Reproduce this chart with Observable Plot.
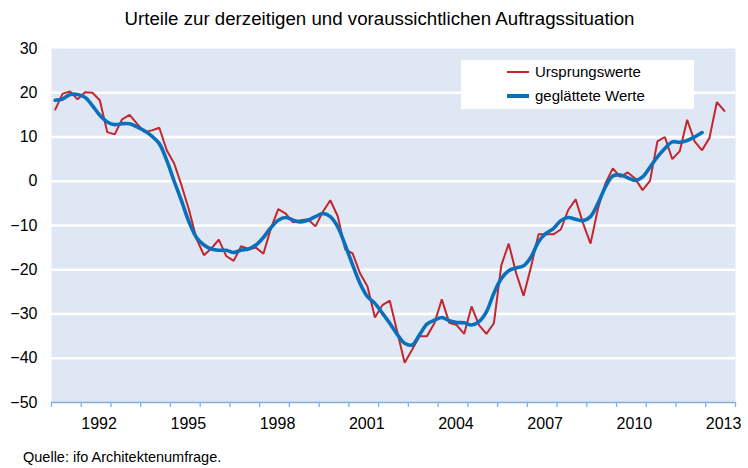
<!DOCTYPE html>
<html>
<head>
<meta charset="utf-8">
<script src="https://cdn.jsdelivr.net/npm/d3@7"></script>
<script src="https://cdn.jsdelivr.net/npm/@observablehq/plot@0.6"></script>
<style>
  body { margin: 0; background: #fff; font-family: "Liberation Sans", Arial, sans-serif; }
  #wrap { position: relative; width: 748px; height: 468px; overflow: hidden; }
  #title { position: absolute; left: 0; top: 9px; width: 759px; text-align: center; font-size: 18.7px; line-height: 19px; color: #000; }
  #caption { position: absolute; left: 23px; top: 450px; font-size: 14.5px; line-height: 15px; color: #000; }
  #legend { position: absolute; left: 461px; top: 60px; width: 233px; height: 49px; background: #fff; }
  .sw { position: absolute; left: 46px; width: 22px; }
  .lt { position: absolute; left: 74px; font-size: 15px; line-height: 15px; color: #000; white-space: nowrap; }
  #chart { position: absolute; left: 0; top: 0; }
</style>
</head>
<body>
<div id="wrap">
  <div id="chart"></div>
  <div id="title"></div>
  <div id="legend"></div>
  <div id="caption"></div>
</div>
<script>
// ---- data ----
const titleText = "Urteile zur derzeitigen und voraussichtlichen Auftragssituation";
const captionText = "Quelle: ifo Architektenumfrage.";
const seriesNames = ["Ursprungswerte", "geglättete Werte"];
const firstYear = 1991;            // first quarter: 1991 Q1
const quartersPerYear = 4;
// Ursprungswerte (quarterly, 1991 Q1 – 2013 Q3)
const ursprungswerte = [
  16.2, 19.8, 20.3, 18.5, 20.1, 20.0, 18.3, 11.1, 10.6, 14.0,
  15.0, 13.0, 11.1, 11.5, 12.1, 7.0, 4.0, -1.0, -6.5, -13.0,
  -16.7, -15.2, -13.2, -16.9, -18.0, -14.7, -15.3, -15.0, -16.4, -10.7,
  -6.3, -7.3, -9.3, -8.8, -8.6, -10.2, -6.9, -4.3, -7.9, -15.4,
  -16.3, -20.8, -23.8, -30.8, -28.0, -27.0, -34.0, -41.0, -38.1, -35.0,
  -35.0, -32.1, -26.7, -32.0, -32.5, -34.5, -28.3, -32.5, -34.5, -32.1,
  -19.0, -14.1, -20.8, -25.9, -19.3, -12.0, -12.0, -12.0, -10.9, -6.5,
  -4.1, -9.5, -14.1, -6.2, -0.5, 2.9, 1.0, 2.0, 0.6, -2.0,
  0.1, 9.0, 10.0, 5.0, 6.8, 13.9, 9.0, 7.0, 9.8, 17.9,
  15.9
];
// geglättete Werte (quarterly, 1991 Q1 – 2012 Q4)
const geglaettet = [
  18.3, 18.6, 19.6, 19.6, 19.0, 17.1, 14.9, 13.4, 12.8, 13.0,
  13.0, 12.3, 11.4, 10.2, 8.5, 4.7, 0.0, -4.5, -9.2, -12.7,
  -14.4, -15.3, -15.6, -15.6, -16.1, -15.6, -15.3, -14.4, -12.7, -10.5,
  -8.8, -8.2, -8.8, -9.2, -8.8, -8.0, -7.3, -8.0, -10.3, -14.4,
  -18.9, -23.1, -26.1, -27.6, -29.8, -32.1, -34.6, -36.6, -37.0, -34.7,
  -32.3, -31.4, -30.8, -31.5, -31.9, -32.0, -32.5, -31.7, -29.5, -25.3,
  -22.0, -20.2, -19.6, -19.1, -17.1, -13.7, -11.8, -10.7, -8.9, -8.2,
  -8.6, -8.9, -8.0, -5.0, -1.3, 1.2, 1.4, 0.8, 0.2, 1.0,
  3.2, 5.5, 7.4, 8.9, 8.8, 9.2, 10.0, 11.0
];
const yTicks = [-50, -40, -30, -20, -10, 0, 10, 20, 30];
const gridValues = [-40, -30, -20, -10, 0, 10, 20];
const xTickYears = d3.range(1991, 2015);          // tick marks at each year boundary
const xLabelYears = [1992, 1995, 1998, 2001, 2004, 2007, 2010, 2013];

// ---- styles ----
const red = "#c1272d";
const blue = "#0b70bc";
const plotBg = "#e0e7f4";
const axisColor = "#7fb1e0";

const toRows = (arr) => arr.map((v, i) => ({t: firstYear + (i + 0.5) / quartersPerYear, v}));
const redRows = toRows(ursprungswerte);
const blueRows = toRows(geglaettet);

const chart = Plot.plot({
  width: 748,
  height: 468,
  marginLeft: 51,
  marginRight: 13,
  marginTop: 48,
  marginBottom: 66,
  x: {domain: [1991, 2014], axis: null},
  y: {domain: [-50, 30], axis: null},
  style: {fontFamily: "'Liberation Sans', Arial, sans-serif", fontSize: "16px", color: "#000", background: "transparent"},
  marks: [
    Plot.frame({fill: plotBg, stroke: null}),
    Plot.ruleY(gridValues, {stroke: "#fff", strokeWidth: 2.5}),
    Plot.ruleY([-50], {stroke: axisColor, strokeWidth: 1.5}),
    Plot.axisX(xTickYears, {tickSize: 5, stroke: axisColor, strokeWidth: 1.3, tickFormat: () => "", label: null}),
    Plot.axisY(yTicks, {tickSize: 0, tickPadding: 14, fontSize: 16, fill: "#000", label: null}),
    Plot.text(xLabelYears, {x: d => d + 0.6, y: -50, dy: 21, text: d => String(d), fontSize: 16, fill: "#000"}),
    Plot.line(redRows, {x: "t", y: "v", stroke: red, strokeWidth: 2, strokeLinejoin: "miter"}),
    Plot.line(blueRows, {x: "t", y: "v", stroke: blue, strokeWidth: 3.6, curve: "catmull-rom"})
  ]
});
document.getElementById("chart").appendChild(chart);

document.getElementById("title").textContent = titleText;
document.getElementById("caption").textContent = captionText;

const legend = document.getElementById("legend");
const entries = [
  {name: seriesNames[0], color: red, w: 2, cy: 12},
  {name: seriesNames[1], color: blue, w: 4, cy: 36}
];
for (const e of entries) {
  const sw = document.createElement("div");
  sw.className = "sw";
  sw.style.top = (e.cy - e.w / 2) + "px";
  sw.style.height = e.w + "px";
  sw.style.background = e.color;
  legend.appendChild(sw);
  const t = document.createElement("div");
  t.className = "lt";
  t.style.top = (e.cy - 8) + "px";
  t.textContent = e.name;
  legend.appendChild(t);
}
</script>
</body>
</html>
